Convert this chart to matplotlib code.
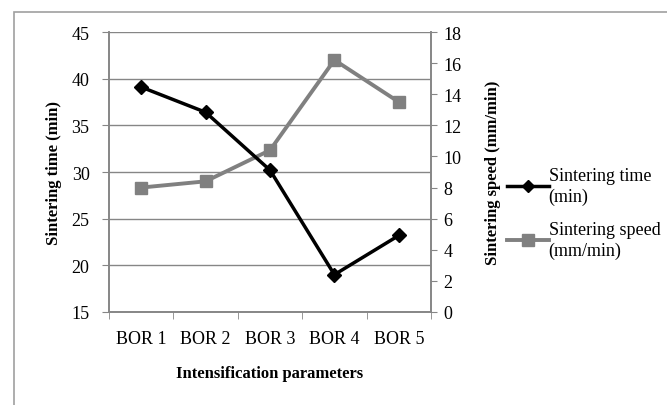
import matplotlib.pyplot as plt
from matplotlib.patches import Rectangle

# data
categories = ['BOR 1', 'BOR 2', 'BOR 3', 'BOR 4', 'BOR 5']
sintering_time = [39.1, 36.4, 30.2, 19.0, 23.2]
sintering_speed = [8.0, 8.4, 10.4, 16.2, 13.5]
time_ticks = [15, 20, 25, 30, 35, 40, 45]
speed_ticks = [0, 2, 4, 6, 8, 10, 12, 14, 16, 18]

plt.rcParams['font.family'] = ['Liberation Serif', 'DejaVu Serif']
plt.rcParams['font.size'] = 13

grey = '#868686'

fig = plt.figure(figsize=(6.67, 4.06), dpi=100)
ax = fig.add_axes([109 / 667, 1 - 313 / 406, (431 - 109) / 667, (313 - 33) / 406])
ax2 = ax.twinx()

x = list(range(len(categories)))
l1, = ax.plot(x, sintering_time, color='black', lw=2.5, marker='D', ms=7,
              label='Sintering time\n(min)', zorder=3)
l2, = ax2.plot(x, sintering_speed, color='#808080', lw=2.8, marker='s', ms=9,
               label='Sintering speed\n(mm/min)', zorder=2)
ax.set_zorder(ax2.get_zorder() + 1)
ax.patch.set_visible(False)

ax.set_xlim(-0.5, len(categories) - 0.5)
ax.set_ylim(15, 45)
ax2.set_ylim(0, 18)
ax.set_yticks(time_ticks)
ax2.set_yticks(speed_ticks)

# category ticks: labels at centers, marks at boundaries
ax.set_xticks(x)
ax.set_xticklabels(categories)
ax.tick_params(axis='x', which='major', length=0, pad=13)
ax.set_xticks([i - 0.5 for i in range(len(categories) + 1)], minor=True)
ax.tick_params(axis='x', which='minor', length=5, color=grey, direction='out')

ax.yaxis.grid(True, color=grey, lw=1)
ax.set_axisbelow(True)
ax.tick_params(axis='y', length=5, color=grey, pad=9)
ax2.tick_params(axis='y', length=4, color=grey, pad=5)

for a in (ax, ax2):
    a.spines['top'].set_visible(False)
    for s in ('left', 'right', 'bottom'):
        a.spines[s].set_color(grey)
        a.spines[s].set_linewidth(1.2)

ax.set_ylabel('Sintering time (min)', fontweight='bold', fontsize=12, labelpad=7)
ax2.set_ylabel('Sintering speed (mm/min)', fontweight='bold', fontsize=12, labelpad=17)
ax.set_xlabel('Intensification parameters', fontweight='bold', fontsize=12, labelpad=13)

fig.legend(handles=[l1, l2], loc='center left', bbox_to_anchor=(507 / 667, 1 - 214 / 406),
           frameon=False, handlelength=2.3, handletextpad=0.0, labelspacing=0.9,
           borderaxespad=0, borderpad=0, fontsize=13, markerscale=0.9)
for t in fig.legends[0].get_texts():
    t.set_linespacing(1.3)

# chart area border (cut off at right and bottom)
fig.patches.append(Rectangle((14 / 667, -0.1), 1.2, 1 - 13 / 406 + 0.1,
                             transform=fig.transFigure, fill=False,
                             edgecolor='#a0a0a0', lw=1.2))

plt.savefig('out.png', dpi=100)
